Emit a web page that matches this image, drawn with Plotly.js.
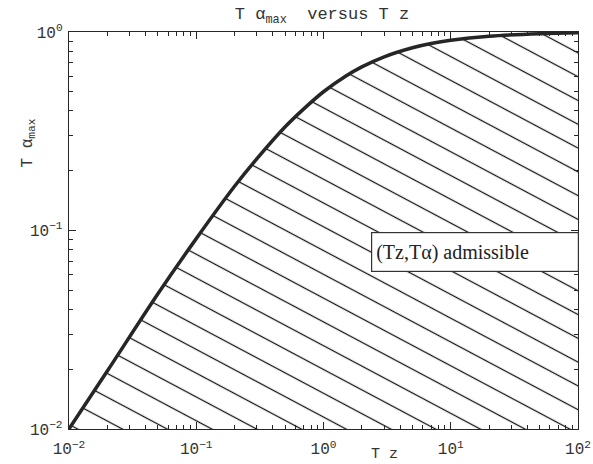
<!DOCTYPE html>
<html>
<head>
<meta charset="utf-8">
<script src="https://cdn.plot.ly/plotly-3.0.1.min.js"></script>
<style>html,body{margin:0;padding:0;background:#fff;}</style>
</head>
<body>
<div id="chart" style="width:593px;height:464px;"></div>
<script>
// Values
var tz = [0.01, 0.02, 0.05, 0.1, 0.2, 0.3, 0.5, 0.7, 1, 1.5, 2, 3, 5, 7, 10, 20, 50, 100];
var talphaMax = [0.01, 0.0196, 0.048, 0.091, 0.167, 0.23, 0.333, 0.41, 0.5, 0.6, 0.667, 0.75, 0.833, 0.875, 0.909, 0.952, 0.98, 0.99];
var baseX = [0.01, 100];
var baseY = [0.01, 0.01];
var xTickVals = [0.01, 0.1, 1, 10, 100];
var xTickText = ['10<sup>−2</sup>', '10<sup>−1</sup>', '10<sup>0</sup>', '10<sup>1</sup>', '10<sup>2</sup>'];
var yTickVals = [0.01, 0.1, 1];
var yTickText = ['10<sup>−2</sup>', '10<sup>−1</sup>', '10<sup>0</sup>'];
var xMinorVals = [0.02,0.03,0.04,0.05,0.06,0.07,0.08,0.09, 0.2,0.3,0.4,0.5,0.6,0.7,0.8,0.9,
                  2,3,4,5,6,7,8,9, 20,30,40,50,60,70,80,90];
var yMinorVals = [0.02,0.03,0.04,0.05,0.06,0.07,0.08,0.09, 0.2,0.3,0.4,0.5,0.6,0.7,0.8,0.9];
var titleText = 'T α<sub>max</sub>  versus T z';
var xLabel = 'T z';
var yLabel = 'T α<sub>max</sub>';
var boxLabel = '(Tz,Tα) admissible';

var mono = 'Liberation Mono, Courier New, monospace';
var ink = '#262626';

var traces = [
  {x: baseX, y: baseY, mode: 'lines', line: {width: 0, color: 'rgba(0,0,0,0)'},
   hoverinfo: 'skip', showlegend: false},
  {x: tz, y: talphaMax, mode: 'lines', line: {width: 3.5, color: ink, shape: 'spline'},
   fill: 'tonexty', fillcolor: 'rgba(0,0,0,0)',
   fillpattern: {shape: '-', size: 21, solidity: 0.06, fgcolor: '#111', bgcolor: 'rgba(255,255,255,0)', fillmode: 'replace'},
   showlegend: false}
];

function axis(vals, text, minorVals, range, standoff) {
  return {
    type: 'log', range: range, tickmode: 'array', tickvals: vals, ticktext: text,
    ticks: 'inside', ticklen: 7, tickcolor: ink, tickwidth: 1,
    mirror: 'allticks', showline: true, linecolor: ink, linewidth: 1.2,
    showgrid: false, zeroline: false, ticklabelstandoff: standoff,
    tickfont: {family: mono, size: 16, color: '#333'},
    minor: {tickmode: 'array', tickvals: minorVals, ticks: 'inside', ticklen: 4, tickcolor: ink, tickwidth: 1, showgrid: false}
  };
}

var layout = {
  width: 593, height: 464,
  margin: {l: 69, r: 15, t: 32, b: 35},
  paper_bgcolor: '#fff', plot_bgcolor: '#fff',
  showlegend: false,
  title: {text: titleText, font: {family: mono, size: 17, color: '#333'},
          x: 0.543, xanchor: 'center', y: 0.972, yanchor: 'middle', xref: 'container', yref: 'container'},
  xaxis: axis(xTickVals, xTickText, xMinorVals, [-2, 2], 5),
  yaxis: axis(yTickVals, yTickText, yMinorVals, [-2, 0], 2),
  annotations: [
    {text: xLabel, xref: 'paper', yref: 'paper', x: 0.62, y: -0.063, xanchor: 'center', yanchor: 'middle',
     showarrow: false, font: {family: mono, size: 15, color: '#333'}},
    {text: yLabel, xref: 'paper', yref: 'paper', x: -0.08, y: 0.72, xanchor: 'center', yanchor: 'middle',
     textangle: -90, showarrow: false, font: {family: mono, size: 16, color: '#333'}},
    {text: boxLabel, xref: 'paper', yref: 'paper', x: 0.797, y: 0.447, xanchor: 'center', yanchor: 'middle',
     showarrow: false, align: 'left', width: 198, height: 30, borderpad: 4,
     bgcolor: '#fff', bordercolor: '#333', borderwidth: 1.2,
     font: {family: 'Liberation Serif, Times New Roman, serif', size: 20, color: '#222'}}
  ]
};

Plotly.newPlot('chart', traces, layout, {displayModeBar: false, staticPlot: true}).then(function () {
  document.querySelectorAll('pattern').forEach(function (p) {
    p.setAttribute('patternTransform', 'rotate(28)');
  });
});
</script>
</body>
</html>
